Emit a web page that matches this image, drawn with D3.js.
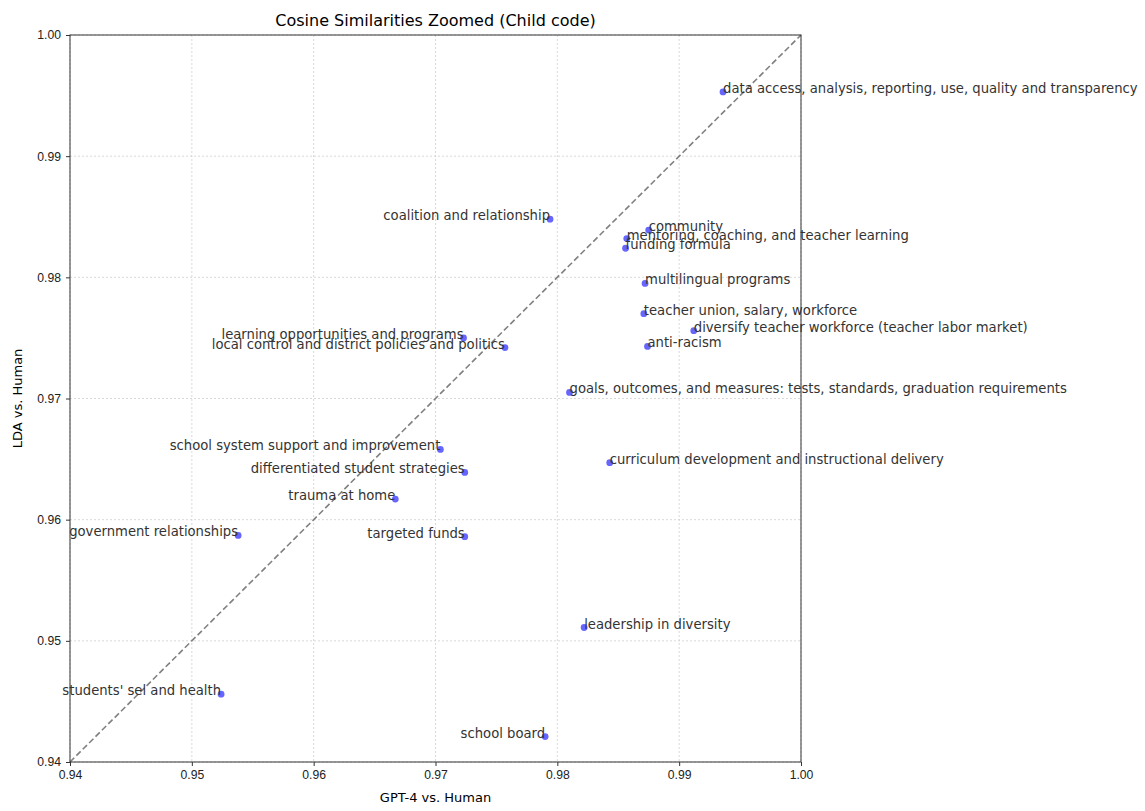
<!DOCTYPE html>
<html>
<head>
<meta charset="utf-8">
<script src="https://cdn.jsdelivr.net/npm/d3@7"></script>
<style>
  body { margin: 0; background: #fff; }
  svg { font-family: "DejaVu Sans", sans-serif; }
  .grid line { stroke: #c8c8c8; stroke-width: 0.7; stroke-dasharray: 2,2; }
  .tick text { font-size: 12.2px; fill: #222; }
  .pt-label { font-size: 13.2px; fill: #333; }
</style>
</head>
<body>
<svg id="chart" width="1145" height="811"></svg>
<script>
// code labels
var codes = [
  "data access, analysis, reporting, use, quality and transparency",
  "coalition and relationship",
  "community",
  "mentoring, coaching, and teacher learning",
  "funding formula",
  "multilingual programs",
  "teacher union, salary, workforce",
  "diversify teacher workforce (teacher labor market)",
  "anti-racism",
  "learning opportunities and programs",
  "local control and district policies and politics",
  "goals, outcomes, and measures: tests, standards, graduation requirements",
  "school system support and improvement",
  "differentiated student strategies",
  "curriculum development and instructional delivery",
  "trauma at home",
  "government relationships",
  "targeted funds",
  "leadership in diversity",
  "students' sel and health",
  "school board"
];
// GPT-4 vs. Human
var gptSim = [0.9936, 0.9794, 0.9875, 0.9857, 0.9856, 0.9872, 0.9871, 0.9912, 0.9874,
  0.9723, 0.9757, 0.9810, 0.9704, 0.9724, 0.9843, 0.9667, 0.9538, 0.9724, 0.9822, 0.9524, 0.9790];
// LDA vs. Human
var ldaSim = [0.9953, 0.9848, 0.9839, 0.9832, 0.9824, 0.9795, 0.9770, 0.9756, 0.9743,
  0.9750, 0.9742, 0.9705, 0.9658, 0.9639, 0.9647, 0.9617, 0.9587, 0.9586, 0.9511, 0.9456, 0.9421];

var xTicks = [0.94, 0.95, 0.96, 0.97, 0.98, 0.99, 1.00];
var yTicks = [0.94, 0.95, 0.96, 0.97, 0.98, 0.99, 1.00];

(function() {
  var svg = d3.select("#chart");
  var left = 70, right = 801, top = 35, bottom = 762;

  var x = d3.scaleLinear().domain([0.94, 1.00]).range([left, right]);
  var y = d3.scaleLinear().domain([0.94, 1.00]).range([bottom, top]);

  // grid
  var grid = svg.append("g").attr("class", "grid");
  grid.selectAll("line.v").data(xTicks).enter().append("line")
      .attr("x1", function(d) { return x(d); })
      .attr("x2", function(d) { return x(d); })
      .attr("y1", top).attr("y2", bottom);
  grid.selectAll("line.h").data(yTicks).enter().append("line")
      .attr("y1", function(d) { return y(d); })
      .attr("y2", function(d) { return y(d); })
      .attr("x1", left).attr("x2", right);

  // diagonal y = x
  svg.append("line")
      .attr("x1", x(0.94)).attr("y1", y(0.94))
      .attr("x2", x(1.00)).attr("y2", y(1.00))
      .attr("stroke", "#808080")
      .attr("stroke-width", 1.6)
      .attr("stroke-dasharray", "6,3");

  var data = codes.map(function(c, i) { return {code: c, gx: gptSim[i], ly: ldaSim[i]}; });

  // points
  svg.append("g").selectAll("circle")
      .data(data)
      .enter().append("circle")
      .attr("cx", function(d) { return x(d.gx); })
      .attr("cy", function(d) { return y(d.ly); })
      .attr("r", 3.4)
      .attr("fill", "#0000ff")
      .attr("fill-opacity", 0.6);

  // labels - left of the point when GPT score under 0.98
  svg.append("g").selectAll("text")
      .data(data)
      .enter().append("text")
      .attr("class", "pt-label")
      .attr("x", function(d) { return x(d.gx); })
      .attr("y", function(d) { return y(d.ly) + 1; })
      .attr("text-anchor", function(d) { return d.gx < 0.98 ? "end" : "start"; })
      .text(function(d) { return d.code; });

  // axes
  var xAxis = d3.axisBottom(x).tickValues(xTicks).tickFormat(d3.format(".2f")).tickSize(4).tickPadding(4);
  var yAxis = d3.axisLeft(y).tickValues(yTicks).tickFormat(d3.format(".2f")).tickSize(4).tickPadding(5);

  var gx = svg.append("g").attr("transform", "translate(0," + bottom + ")").call(xAxis);
  var gy = svg.append("g").attr("transform", "translate(" + left + ",0)").call(yAxis);
  gx.select(".domain").remove();
  gy.select(".domain").remove();
  gx.selectAll(".tick line").attr("stroke", "#333");
  gy.selectAll(".tick line").attr("stroke", "#333");

  // frame
  svg.append("rect")
      .attr("x", left).attr("y", top)
      .attr("width", right - left).attr("height", bottom - top)
      .attr("fill", "none")
      .attr("stroke", "#333")
      .attr("stroke-width", 1);

  // title + axis labels
  svg.append("text")
      .attr("x", (left + right) / 2).attr("y", 26)
      .attr("text-anchor", "middle")
      .style("font-size", "16px")
      .text("Cosine Similarities Zoomed (Child code)");
  svg.append("text")
      .attr("x", (left + right) / 2).attr("y", 802)
      .attr("text-anchor", "middle")
      .style("font-size", "13px")
      .text("GPT-4 vs. Human");
  svg.append("text")
      .attr("transform", "translate(22," + ((top + bottom) / 2) + ") rotate(-90)")
      .attr("text-anchor", "middle")
      .style("font-size", "13px")
      .text("LDA vs. Human");
})();
</script>
</body>
</html>
